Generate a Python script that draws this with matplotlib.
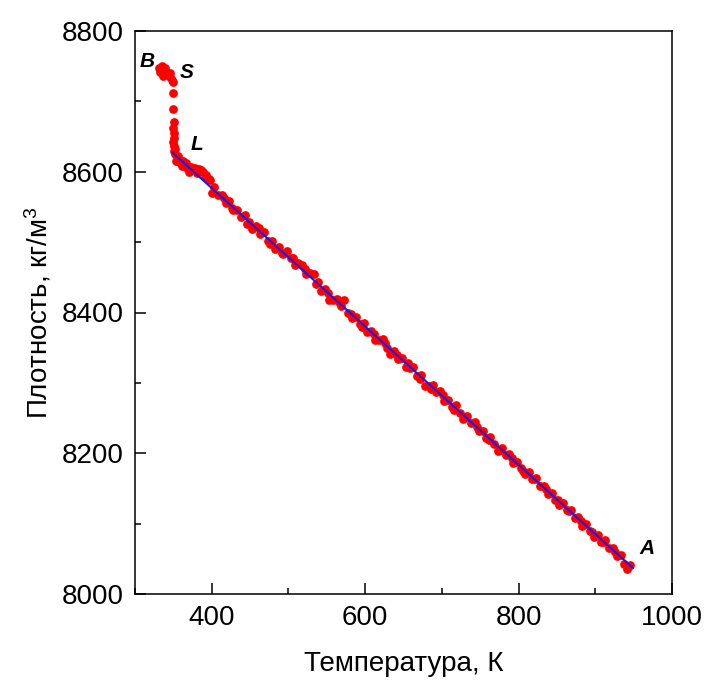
import matplotlib.pyplot as plt
from matplotlib.ticker import MultipleLocator

# solid state (B -> S) and melting (S -> L)
temp_solid = [331, 333, 335, 336, 337, 338, 339, 341, 343, 345, 346, 348, 349,
              350, 350, 351, 350, 351, 351, 350, 351, 352, 351, 352]
dens_solid = [8748, 8742, 8750, 8744, 8736, 8740, 8747, 8742, 8737, 8740, 8734, 8731, 8728,
              8712, 8689, 8670, 8662, 8655, 8648, 8642, 8637, 8633, 8629, 8625]

# liquid (L -> A)
temp_liq = [353, 358, 363, 368, 373, 378, 383, 388, 393, 398,
            403, 408, 413, 418, 423, 428, 433, 438, 443, 448,
            453, 458, 463, 468, 473, 478, 483, 488, 493, 498,
            503, 508, 513, 518, 523, 528, 533, 538, 543, 548,
            553, 558, 563, 568, 573, 578, 583, 588, 593, 598,
            603, 608, 613, 618, 623, 628, 633, 638, 643, 648,
            653, 658, 663, 668, 673, 678, 683, 688, 693, 698,
            703, 708, 713, 718, 723, 728, 733, 738, 743, 748,
            753, 758, 763, 768, 773, 778, 783, 788, 793, 798,
            803, 808, 813, 818, 823, 828, 833, 838, 843, 848,
            853, 858, 863, 868, 873, 878, 883, 888, 893, 898,
            903, 908, 913, 918, 923, 928, 933, 938, 943]
dens_liq = [8615, 8614, 8615, 8605, 8607, 8606, 8604, 8600, 8596, 8588,
            8578, 8567, 8567, 8555, 8559, 8546, 8546, 8535, 8539, 8528,
            8519, 8523, 8512, 8514, 8501, 8502, 8490, 8493, 8483, 8487,
            8478, 8468, 8470, 8468, 8454, 8456, 8454, 8444, 8430, 8433,
            8418, 8418, 8419, 8409, 8418, 8400, 8392, 8394, 8384, 8385,
            8373, 8374, 8361, 8361, 8362, 8350, 8341, 8345, 8334, 8336,
            8323, 8321, 8323, 8310, 8311, 8296, 8295, 8297, 8287, 8288,
            8274, 8276, 8266, 8269, 8257, 8248, 8253, 8243, 8244, 8232,
            8232, 8221, 8223, 8213, 8203, 8207, 8197, 8199, 8186, 8188,
            8179, 8170, 8174, 8164, 8165, 8153, 8153, 8142, 8144, 8134,
            8127, 8130, 8119, 8119, 8108, 8109, 8097, 8100, 8090, 8081,
            8084, 8074, 8077, 8066, 8066, 8054, 8055, 8042, 8039]

temp_liq2 = [356, 361, 366, 371, 376, 381, 386, 391, 396, 401, 416, 426, 446, 461,
             476, 491, 506, 521, 536, 551, 566, 581, 596, 611, 626, 641, 656, 671,
             686, 701, 716, 731, 746, 761, 776, 791, 806, 821, 836, 851, 866, 881,
             896, 911, 926, 941, 945]
dens_liq2 = [8622, 8608, 8612, 8600, 8603, 8598, 8603, 8592, 8590, 8570, 8562, 8548, 8526, 8520,
             8498, 8484, 8477, 8462, 8440, 8428, 8415, 8398, 8380, 8370, 8356, 8339, 8328, 8306,
             8292, 8283, 8262, 8251, 8238, 8219, 8205, 8193, 8175, 8163, 8149, 8133, 8118, 8104,
             8088, 8074, 8059, 8036, 8041]

# linear fit of the liquid
fit_temp = [349, 949]
fit_dens = [8627, 8037]

point_names = ['B', 'S', 'L', 'A']
point_temp = [316, 368, 381, 968]
point_dens = [8757, 8741, 8639, 8065]

plt.rcParams['font.family'] = ['Liberation Sans', 'DejaVu Sans']
plt.rcParams['mathtext.default'] = 'regular'

fig = plt.figure(figsize=(7.04, 6.84), dpi=100)
ax = fig.add_axes([135/704, 1-594/684, (672-135)/704, (594-31)/684])

ms = 6.3
ax.plot(temp_solid, dens_solid, 'o', color='#ff0000', ms=ms, mew=0)
ax.plot(temp_liq, dens_liq, 'o', color='#ff0000', ms=ms, mew=0)
ax.plot(temp_liq2, dens_liq2, 'o', color='#ff0000', ms=ms, mew=0)
ax.plot(fit_temp, fit_dens, '-', color='#1a1ae6', lw=1.5)

for n, x, y in zip(point_names, point_temp, point_dens):
    ax.text(x, y, n, fontsize=15, fontweight='bold', fontstyle='italic',
            ha='center', va='center')

ax.set_xlim(300, 1000)
ax.set_ylim(8000, 8800)
ax.xaxis.set_major_locator(MultipleLocator(200))
ax.xaxis.set_minor_locator(MultipleLocator(100))
ax.yaxis.set_major_locator(MultipleLocator(200))
ax.yaxis.set_minor_locator(MultipleLocator(100))
ax.tick_params(which='both', direction='in', top=False, right=False, width=1.1,
               labelsize=20, pad=8)
ax.tick_params(which='major', length=8)
ax.tick_params(which='minor', length=4.5)
for s in ax.spines.values():
    s.set_linewidth(1.1)

ax.set_xlabel('Температура, К', fontsize=20, labelpad=14)
ax.set_ylabel('Плотность, кг/м$^3$', fontsize=20, labelpad=6)

fig.savefig('out.png', dpi=100)
